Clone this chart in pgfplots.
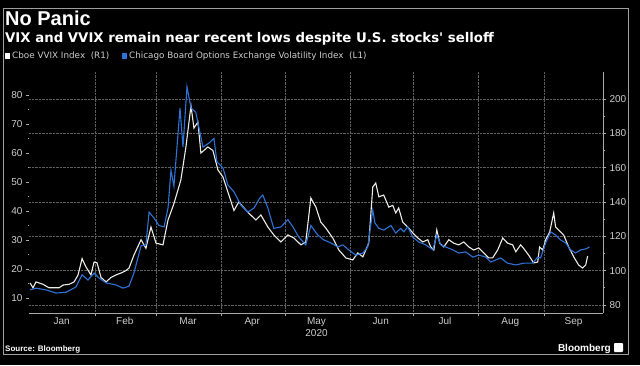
\documentclass[border=0pt]{standalone}
\usepackage{pgfplots}
\pgfplotsset{compat=1.18}
\usepackage{fontspec}
\setmainfont{Liberation Sans}
\newfontfamily\dejavu{DejaVu Sans}
\definecolor{vixblue}{RGB}{45,115,215}
\definecolor{vvixwhite}{RGB}{238,236,230}
\definecolor{gridgray}{RGB}{95,95,95}
\definecolor{axgray}{RGB}{170,170,170}
\definecolor{labgray}{RGB}{205,205,205}
\begin{document}
\begin{tikzpicture}[x=1pt,y=1pt]
\fill[black] (0,0) rectangle (640,365);
\draw[gray!75, line width=0.8pt] (3,11) rectangle (628,357);
\node[anchor=base west, inner sep=0, text=white, font=\bfseries\fontsize{20}{22}\selectfont] at (5,339) {No Panic};
\node[anchor=base west, inner sep=0, text=white, font=\dejavu\bfseries\fontsize{13.3}{15}\selectfont] at (5,322) {VIX and VVIX remain near recent lows despite U.S. stocks' selloff};
\fill[white] (5,306) rectangle (10,312);
\node[anchor=base west, inner sep=0, text=labgray, font=\dejavu\fontsize{8.8}{10}\selectfont] at (12,306) {Cboe VVIX Index\ \ (R1)};
\fill[vixblue] (122,306) rectangle (127,312);
\node[anchor=base west, inner sep=0, text=labgray, font=\dejavu\fontsize{8.8}{10}\selectfont] at (129,306) {Chicago Board Options Exchange Volatility Index\ \ (L1)};
\node[anchor=base west, inner sep=0, text=white, font=\bfseries\fontsize{8}{9}\selectfont] at (5,14) {Source: Bloomberg};
\node[anchor=base east, inner sep=0, text=white, font=\bfseries\fontsize{10}{11}\selectfont] at (611,14) {Bloomberg};
\fill[white, rounded corners=0.8pt] (614,13) rectangle (623,22);

\begin{axis}[
  at={(29pt,52pt)}, anchor=south west, scale only axis,
  width=574pt, height=241pt,
  xmin=-0.5, xmax=272, ymin=75.3, ymax=215.7,
  axis x line*=bottom, axis y line*=right,
  xtick={31,60,91,121,152,182,213,244},
  xticklabels={,,,,,,,},
  extra x ticks={15,45,75,105.5,136,166.5,197,228,258},
  extra x tick labels={Jan,Feb,Mar,Apr,{May\\2020},Jun,Jul,Aug,Sep},
  extra x tick style={grid=none, major tick length=0pt},
  xticklabel style={align=center, yshift=-1pt},
  ytick={80,100,...,200}, minor y tick num=1,
  xmajorgrids, ymajorgrids,
  grid style={gridgray, densely dotted, line width=0.5pt},
  axis line style={axgray, line width=0.6pt},
  tick style={axgray, line width=0.6pt},
  tick align=outside, major tick length=3pt, minor tick length=1.5pt,
  ticklabel style={text=labgray, font=\fontsize{10}{12}\selectfont},
  /pgf/number format/assume math mode=true,
]
\addplot[vvixwhite, line width=1.1pt] coordinates {
(0,92.8) (1.4,90) (2.8,93.4) (6.2,92) (9.0,90) (13.8,90) (15.7,91.6) (18.5,92)
(20.9,93.4) (22.8,97.5) (24.7,107) (26.6,102) (28.9,97.5) (30.4,105) (31.8,104.5)
(33.7,96) (36.1,93.4) (38.4,96) (40.8,97.5) (43.2,98.6) (45.5,100) (47.0,101.5)
(49.3,109) (52.7,118) (55.0,113) (57.4,125.4) (59.8,116) (63.1,115) (65.5,129.5)
(68.3,139) (71.6,152.8) (74.0,172) (76.4,196) (77.8,183) (79.7,186.6) (81.1,168.5)
(84.4,172) (86.8,170) (89.2,158.6) (91.6,154.5) (94.4,144) (96.8,135) (99.1,140)
(103.4,134) (107.2,129.5) (109.6,132.4) (112.9,125.4) (115.7,120.8) (119.1,116.7)
(122.4,120.8) (125.2,119) (128.6,115) (130.9,116.7) (133.3,142.3) (135.7,137)
(138.0,128.3) (140.4,124.8) (143.7,119) (146.6,112) (149.9,107.4) (153.2,106.2)
(155.6,110.3) (158.0,108) (160.8,116) (162.7,148.7) (164.1,151) (165.6,143)
(167.9,144) (170.3,137) (172.2,138) (173.6,133.6) (175.0,136.5) (176.9,128.3)
(179.3,125.4) (181.7,122) (184.1,119) (186.4,116.7) (188.8,118) (190.2,113.8)
(191.7,112) (193.1,123.7) (194.5,116) (196.4,113.8) (198.8,118) (201.1,116)
(203.5,115) (205.9,116.7) (208.3,113.8) (210.6,112) (213.0,113.2) (215.4,110.3)
(217.7,107.4) (219.6,107.4) (222.0,112) (224.4,119) (226.7,116) (229.1,115)
(230.6,111) (232.9,115) (234.3,113) (236.7,109) (239.1,104.5) (241.0,105)
(241.9,113.8) (243.4,112) (244.8,118) (246.7,122.5) (248.6,133.6) (249.5,125.4)
(250.9,123.7) (253.3,120.8) (255.7,113.8) (258.1,108) (260.4,103.3) (262.3,101.5)
(263.8,103.3) (264.7,108.5)
};
\end{axis}

\begin{axis}[
  at={(29pt,52pt)}, anchor=south west, scale only axis,
  width=574pt, height=241pt,
  xmin=-0.5, xmax=272, ymin=4.83, ymax=87.9,
  axis y line*=left, hide x axis,
  y axis line style={draw=none},
  ytick={10,20,...,80}, minor y tick num=1,
  tick style={axgray, line width=0.6pt},
  tick align=outside, major tick length=3pt, minor tick length=1.5pt,
  ticklabel style={text=labgray, font=\fontsize{10}{12}\selectfont},
  /pgf/number format/assume math mode=true,
]
\addplot[vixblue, line width=1.1pt] coordinates {
(0,12.8) (2.8,13.4) (7.6,12.8) (12.3,11.7) (17.1,12) (21.8,13.8) (24.7,18)
(27.5,16.2) (30.4,18.6) (32.7,16.9) (36.1,15.2) (40.8,14.5) (44.1,13.4) (47.0,14.1)
(49.3,18.6) (52.7,28) (55.0,28.3) (56.5,39.6) (58.8,37.6) (61.2,35) (63.6,34.5)
(65.5,41) (66.9,54) (68.3,48.5) (71.2,75.5) (72.6,62) (74.5,82.8) (76.4,75.5)
(78.7,74) (80.2,68.6) (82.1,62) (84.9,63.4) (87.3,65) (88.7,57) (91.6,54.8)
(93.9,49) (96.8,46.6) (100.1,42) (103.4,39.6) (106.3,41) (109.1,44.5) (110.5,45.5)
(112.9,41) (115.7,34) (119.1,34.5) (122.4,37) (124.8,34.5) (127.6,31) (130.9,28.3)
(133.3,35) (136.6,31.7) (139.5,30) (142.8,29) (146.1,27.6) (148.5,28.3) (151.3,26.6)
(154.6,24.8) (158.0,25.5) (160.3,27.6) (162.7,40.3) (163.7,35.9) (165.6,34)
(167.9,33.4) (171.3,35) (173.6,32.4) (176.0,34) (177.4,32.8) (179.3,34.5)
(181.7,31) (184.5,29.3) (187.9,28.3) (191.2,26.6) (193.1,31.7) (195.0,28.3)
(197.3,27.6) (200.7,26.6) (203.5,25.5) (206.8,25.9) (210.2,24.1) (213.0,24.8)
(216.3,24.1) (218.7,22.4) (223.4,23.8) (226.7,22) (230.6,21.4) (234.3,22)
(238.6,22) (241.0,24.1) (242.4,23.8) (244.8,29) (247.2,32.8) (249.5,31.7)
(251.9,30) (254.3,29) (256.6,26.6) (259.0,25.5) (261.4,26.6) (263.8,26.9)
(265.6,27.6)
};
\end{axis}
\end{tikzpicture}
\end{document}
